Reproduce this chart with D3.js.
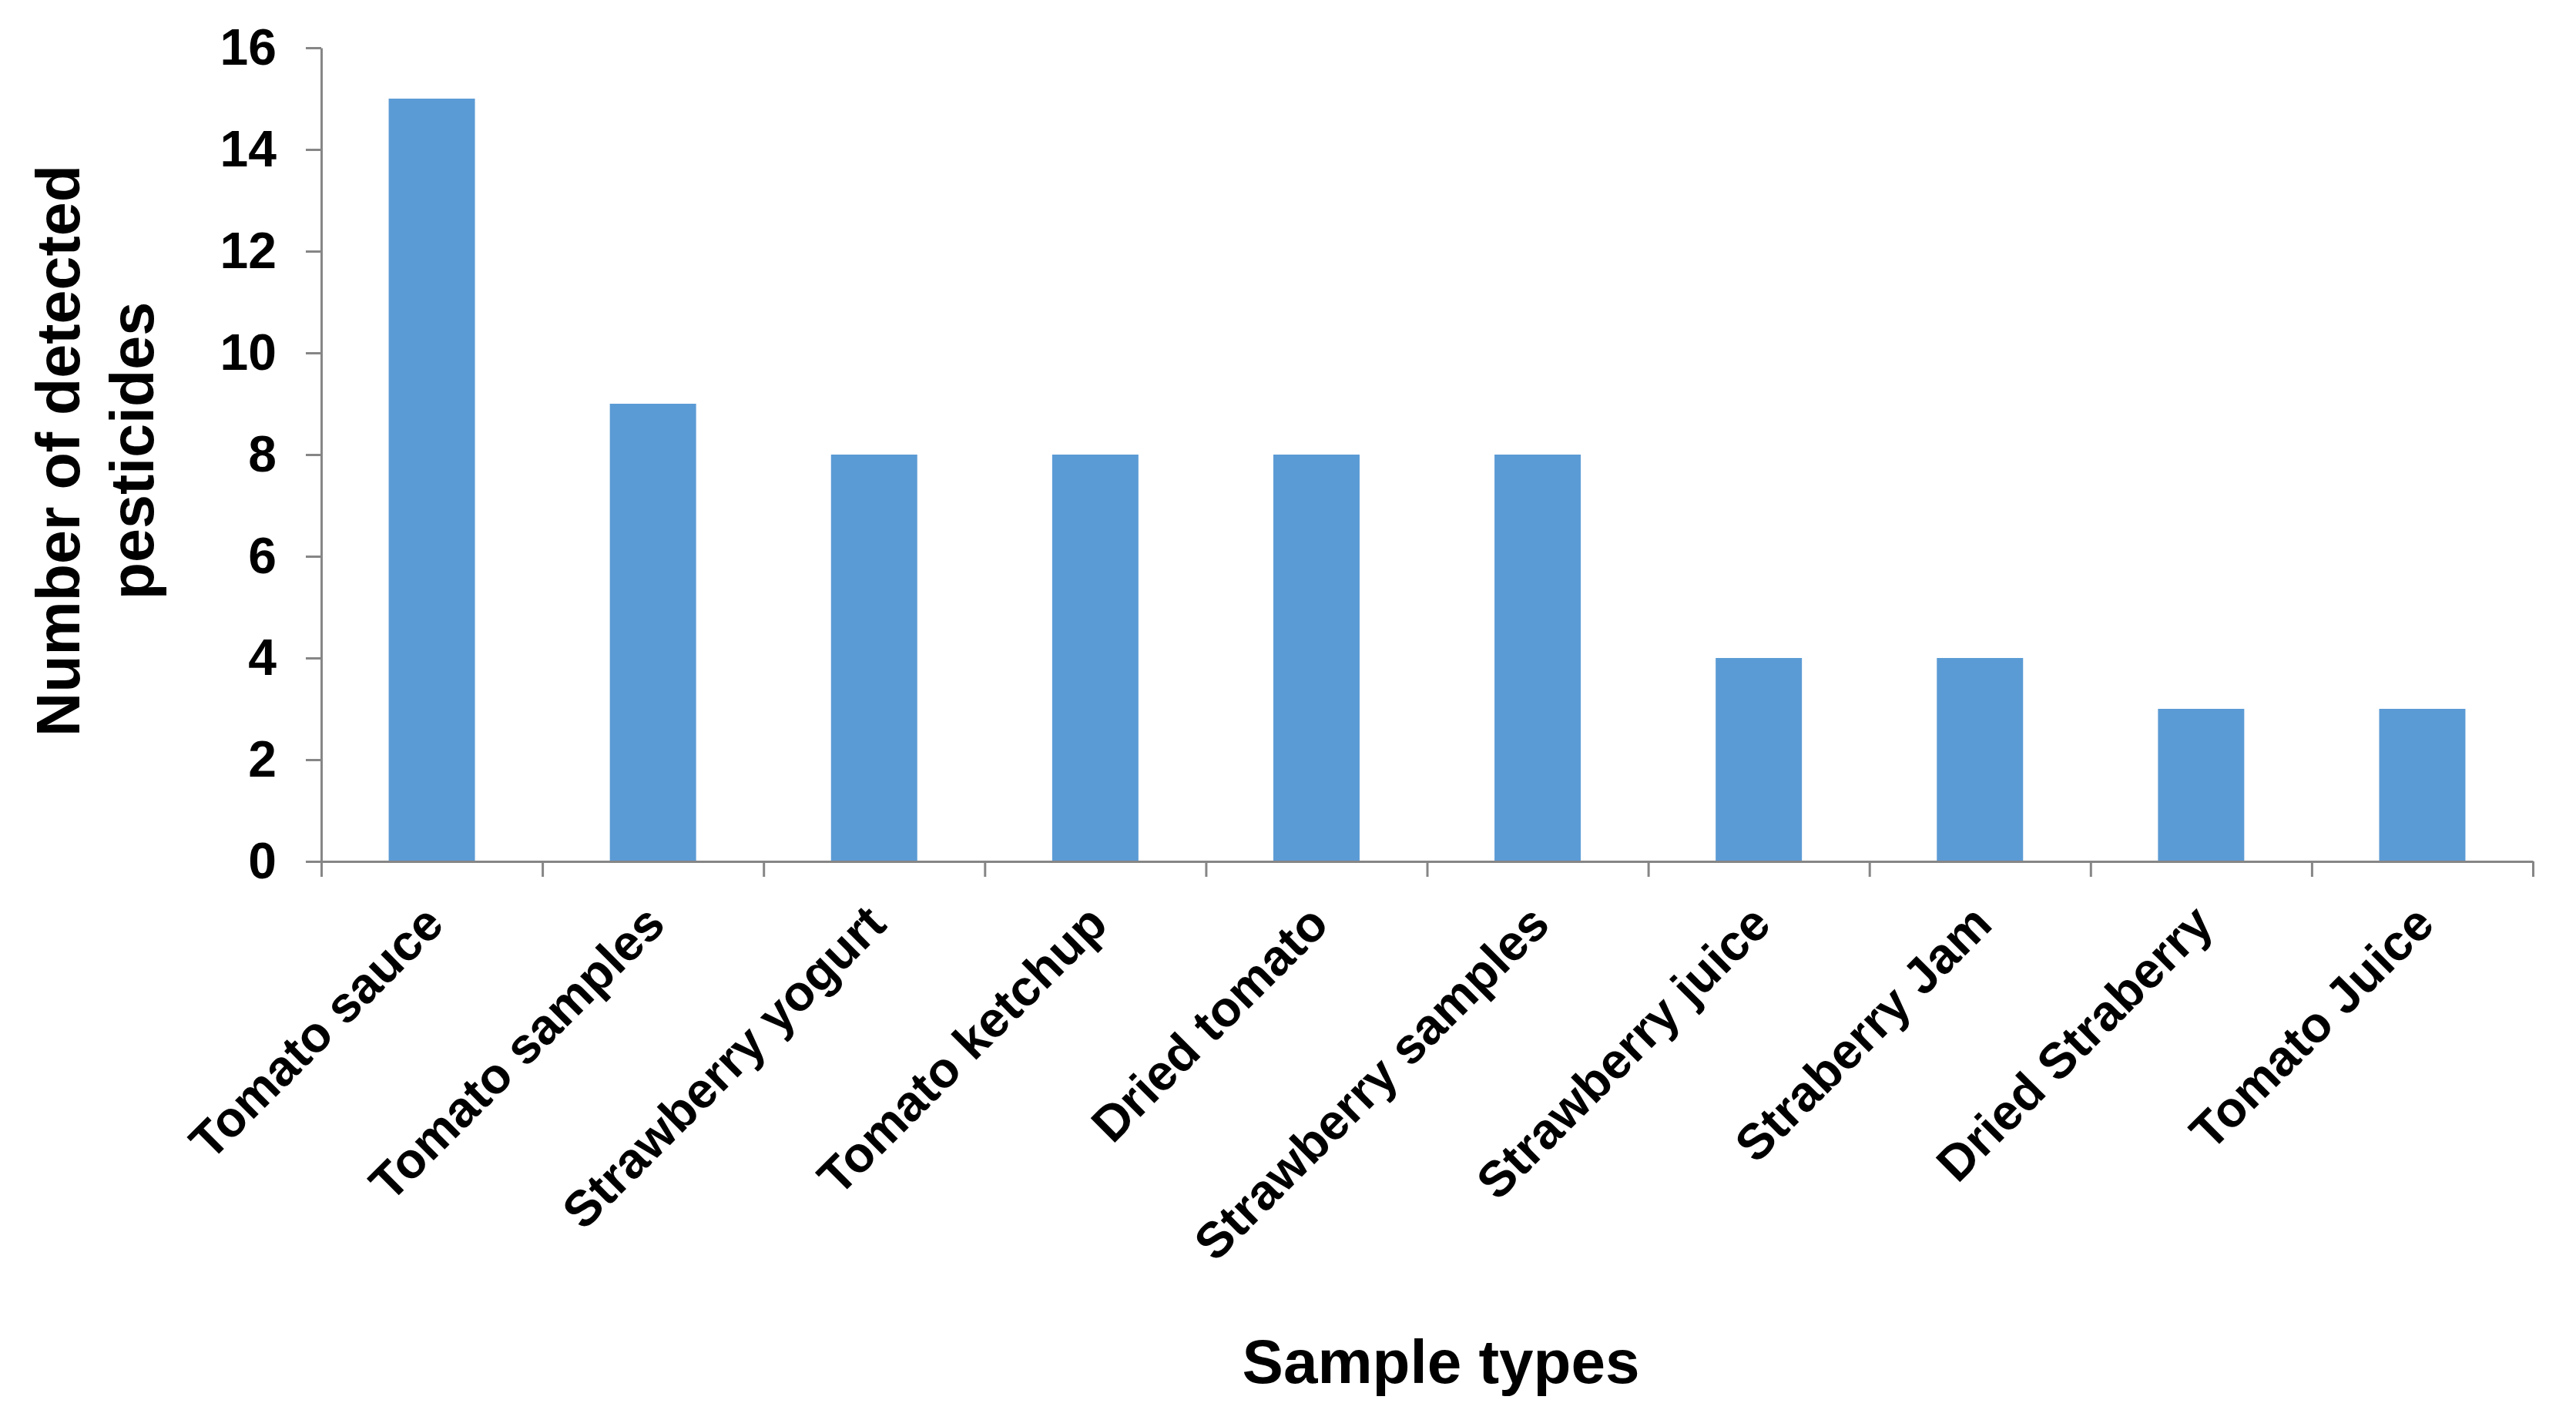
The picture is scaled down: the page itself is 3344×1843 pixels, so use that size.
<!DOCTYPE html>
<html>
<head>
<meta charset="utf-8">
<script src="https://cdn.jsdelivr.net/npm/d3@7"></script>
<style>
	body { margin: 0; background: #fff; }
	svg { display: block; font-family: "Liberation Sans", Arial, sans-serif; }
</style>
</head>
<body>
<svg id="chart"></svg>
<script>
/* data */
var categories = ['Tomato sauce', 'Tomato samples', 'Strawberry yogurt', 'Tomato ketchup', 'Dried tomato',
	'Strawberry samples', 'Strawberry juice', 'Straberry Jam', 'Dried Straberry', 'Tomato Juice']
var counts = [15, 9, 8, 8, 8, 8, 4, 4, 3, 3]
var yTicks = [0, 2, 4, 6, 8, 10, 12, 14, 16]
var yTitleLines = ['Number of detected', 'pesticides']
var xTitle = 'Sample types'

var width = 3344, height = 1843
var plotLeft = 417, plotRight = 3288, plotTop = 62, plotBottom = 1118
var axisColor = '#868686'

var svg = d3.select('#chart').attr('width', width).attr('height', height)

var x = d3.scaleBand().domain(categories).range([plotLeft, plotRight]).paddingInner(0.61).paddingOuter(0.305)
var xEdge = d3.scaleLinear().domain([0, categories.length]).range([plotLeft, plotRight])
var y = d3.scaleLinear().domain([0, 16]).range([plotBottom, plotTop])

/* bars */
svg.append('g').selectAll('rect').data(counts).enter().append('rect')
	.attr('x', function(d, i) { return x(categories[i]) })
	.attr('y', function(d) { return y(d) })
	.attr('width', x.bandwidth())
	.attr('height', function(d) { return y(0) - y(d) })
	.style('fill', '#5B9BD5')

/* y axis */
var yAxis = svg.append('g').attr('transform', 'translate(' + plotLeft + ',0)')
	.call(d3.axisLeft(y).tickValues(yTicks).tickSize(20).tickSizeOuter(0).tickPadding(38))
yAxis.selectAll('text').style('font-size', '66px').style('font-weight', 'bold').style('fill', '#000')

/* x axis: ticks sit between categories */
var xAxis = svg.append('g').attr('transform', 'translate(0,' + plotBottom + ')')
	.call(d3.axisBottom(xEdge).ticks(categories.length).tickSize(20).tickSizeOuter(0).tickFormat(''))

svg.selectAll('.domain, .tick line').style('stroke', axisColor).style('stroke-width', 3)

/* rotated category labels */
svg.append('g').selectAll('text').data(categories).enter().append('text')
	.attr('transform', function(d) {
		return 'translate(' + (x(d) + x.bandwidth() / 2 - 14) + ',' + (plotBottom + 52) + ') rotate(-45)'
	})
	.attr('dy', '0.71em')
	.attr('text-anchor', 'end')
	.style('font-size', '65px')
	.style('font-weight', 'bold')
	.text(function(d) { return d })

/* axis titles */
var yTitle = svg.append('text')
	.attr('transform', 'translate(75,585) rotate(-90)')
	.attr('text-anchor', 'middle')
	.style('font-size', '79px')
	.style('font-weight', 'bold')
yTitle.selectAll('tspan').data(yTitleLines).enter().append('tspan')
	.attr('x', 0)
	.attr('dy', function(d, i) { return i == 0 ? '0.35em' : '1.22em' })
	.text(function(d) { return d })

svg.append('text')
	.attr('x', (plotLeft + plotRight) / 2 + 18)
	.attr('y', 1795)
	.attr('text-anchor', 'middle')
	.style('font-size', '80px')
	.style('font-weight', 'bold')
	.text(xTitle)
</script>
</body>
</html>
